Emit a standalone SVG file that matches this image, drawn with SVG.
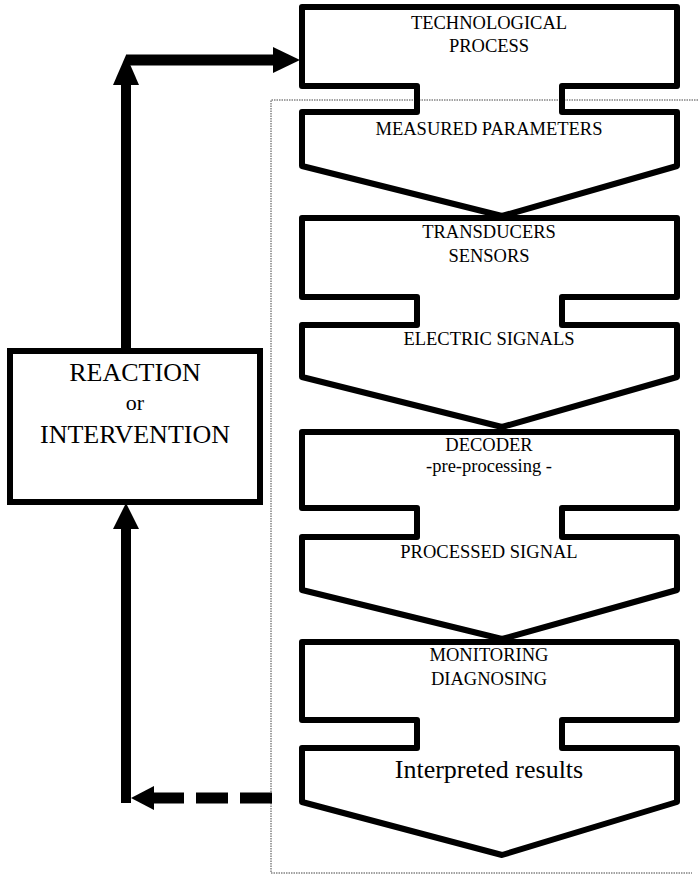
<svg xmlns="http://www.w3.org/2000/svg" width="698" height="875" viewBox="0 0 698 875">
<style>
.stage{fill:none;stroke:#000;stroke-width:6;stroke-linejoin:round}
.t{font-family:"Liberation Serif","Times New Roman",serif;font-size:18.5px;fill:#000;text-anchor:middle}
.big{font-size:26px}
.thick{stroke:#000;stroke-width:10;fill:none}
.head{fill:#000}
.dot{fill:none;stroke:#444;stroke-width:1;stroke-dasharray:1.5 1}
</style>
<rect width="698" height="875" fill="#fff"/>
<g id="boundary">
<polyline class="dot" points="698,100 271,100 271,873 692,873"/>
</g>
<g id="technological-process">
<path class="stage" d="M302,7 H677 V86 H562 V112 H677 V166 L502,216 L302,166 V112 H417 V86 H302 Z"/>
<text class="t" x="489" y="29">TECHNOLOGICAL</text>
<text class="t" x="489" y="52">PROCESS</text>
<text class="t" x="489" y="135">MEASURED PARAMETERS</text>
</g>
<g id="transducers-sensors">
<path class="stage" d="M302,218 H677 V297 H562 V325 H677 V377 L502,427 L302,377 V325 H417 V297 H302 Z"/>
<text class="t" x="489" y="238">TRANSDUCERS</text>
<text class="t" x="489" y="262">SENSORS</text>
<text class="t" x="489" y="345">ELECTRIC SIGNALS</text>
</g>
<g id="decoder">
<path class="stage" d="M302,432 H677 V508 H562 V537 H677 V590 L502,639 L302,590 V537 H417 V508 H302 Z"/>
<text class="t" x="489" y="451">DECODER</text>
<text class="t" x="489" y="472">-pre-processing -</text>
<text class="t" x="489" y="558">PROCESSED SIGNAL</text>
</g>
<g id="monitoring-diagnosing">
<path class="stage" d="M302,642 H677 V720 H562 V748 H677 V802 L502,855 L302,802 V748 H417 V720 H302 Z"/>
<text class="t" x="489" y="661">MONITORING</text>
<text class="t" x="489" y="685">DIAGNOSING</text>
<text class="t big" x="489" y="778">Interpreted results</text>
</g>
<g id="reaction">
<rect x="10" y="351" width="250" height="151" fill="#fff" stroke="#000" stroke-width="6"/>
<text class="t big" x="135" y="381">REACTION</text>
<text class="t" x="135" y="410" style="font-size:22px">or</text>
<text class="t big" x="135" y="443">INTERVENTION</text>
</g>
<g id="connectors">
<line class="thick" x1="126" y1="348" x2="126" y2="84"/>
<polygon class="head" points="126,55 139,85 113,85"/>
<line class="thick" x1="126" y1="60" x2="275" y2="60" style="stroke-width:11"/>
<polygon class="head" points="300,60 273,47 273,73"/>
<polygon class="head" points="126,503 139,529 113,529"/>
<line class="thick" x1="126" y1="527" x2="126" y2="803"/>
<line class="thick" x1="272" y1="798" x2="152" y2="798" style="stroke-width:11;stroke-dasharray:32 12"/>
<polygon class="head" points="131,798 154,786 154,810"/>
</g>
</svg>
